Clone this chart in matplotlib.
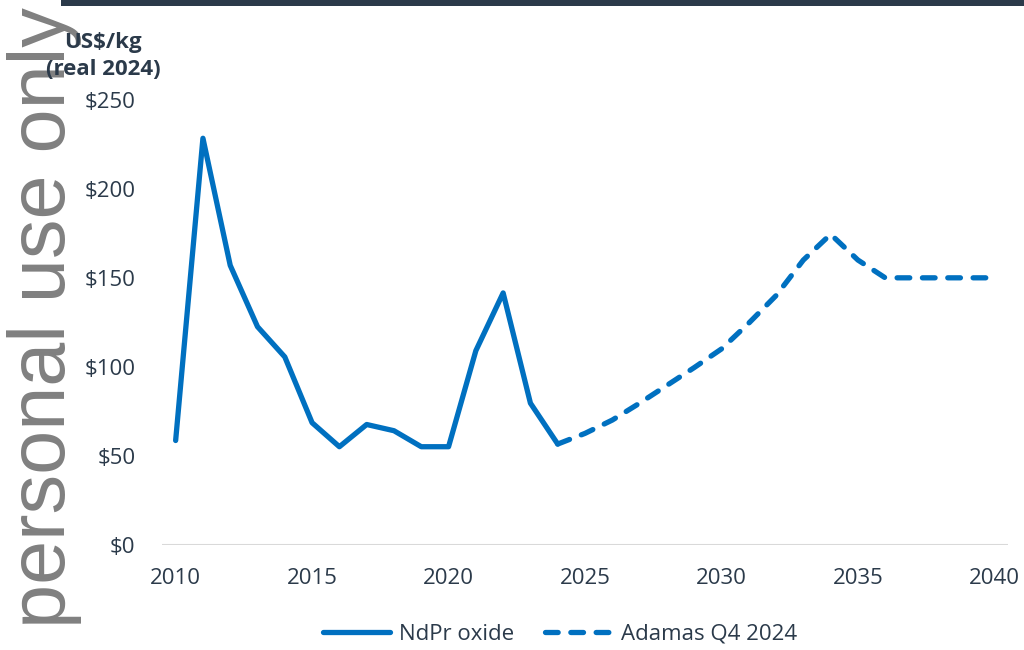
import numpy as np
import matplotlib.pyplot as plt
from matplotlib.patches import Rectangle

# --- data ---
hist_years = list(range(2010, 2025))
hist_price = [58.5, 228.5, 157, 122.5, 105.5, 68.5, 55, 67.5, 64, 55, 55,
              109, 141.5, 79.5, 56.5]

fc_years = list(range(2024, 2041))
fc_price = [56.5, 62.5, 70, 79.5, 89.5, 99.5, 110, 124.5, 140, 160, 174.5,
            160, 150, 150, 150, 150, 150]

y_ticks = [0, 50, 100, 150, 200, 250]
y_ticklabels = ['$0', '$50', '$100', '$150', '$200', '$250']
x_ticks = [2010, 2015, 2020, 2025, 2030, 2035, 2040]

BLUE = '#0070C0'
TEXT = '#2B3A4A'

plt.rcParams['font.family'] = ['Open Sans', 'DejaVu Sans']

fig = plt.figure(figsize=(10.24, 6.5), dpi=100)
ax = fig.add_axes([0.1582, 0.1623, 0.8262, 0.6838])

ax.plot(hist_years, hist_price, color=BLUE, lw=3.8,
        solid_capstyle='round', solid_joinstyle='round', label='NdPr oxide')
ax.plot(fc_years, fc_price, color=BLUE, lw=3.8, dashes=(2.4, 2.4),
        dash_capstyle='round', dash_joinstyle='round', label='Adamas Q4 2024')

ax.set_xlim(2009.5, 2040.5)
ax.set_ylim(0, 250)
ax.set_yticks(y_ticks)
ax.set_yticklabels(y_ticklabels)
ax.set_xticks(x_ticks)
ax.tick_params(axis='both', length=0, labelsize=16, labelcolor=TEXT)
ax.tick_params(axis='y', pad=19)
ax.tick_params(axis='x', pad=17)
for s in ax.spines.values():
    s.set_visible(False)
ax.axhline(0, color='#D9D9D9', lw=1.5, zorder=0)

# units label above the y axis
fig.text(103 / 1024, 1 - 56 / 650, 'US$/kg\n(real 2024)', ha='center', va='center',
         fontsize=16, fontweight='bold', color=TEXT, linespacing=1.4)

leg = fig.legend(loc='center', bbox_to_anchor=(560 / 1024, 16 / 650), ncol=2,
                 frameon=False, fontsize=16, handlelength=3.0, handletextpad=0.4,
                 columnspacing=1.4)
for t in leg.get_texts():
    t.set_color(TEXT)

# dark strip along the top
fig.add_artist(Rectangle((61 / 1024, 1 - 5.5 / 650), 1 - 61 / 1024, 5.5 / 650,
                         transform=fig.transFigure, color='#2B3A4A', lw=0))

fig.text(65 / 1024, 1 - 628 / 650, 'personal use only', rotation=90,
         rotation_mode='anchor', ha='left', va='baseline', fontsize=57,
         family='Liberation Sans', color='#808080', zorder=0)

fig.savefig('out.png', dpi=100)
